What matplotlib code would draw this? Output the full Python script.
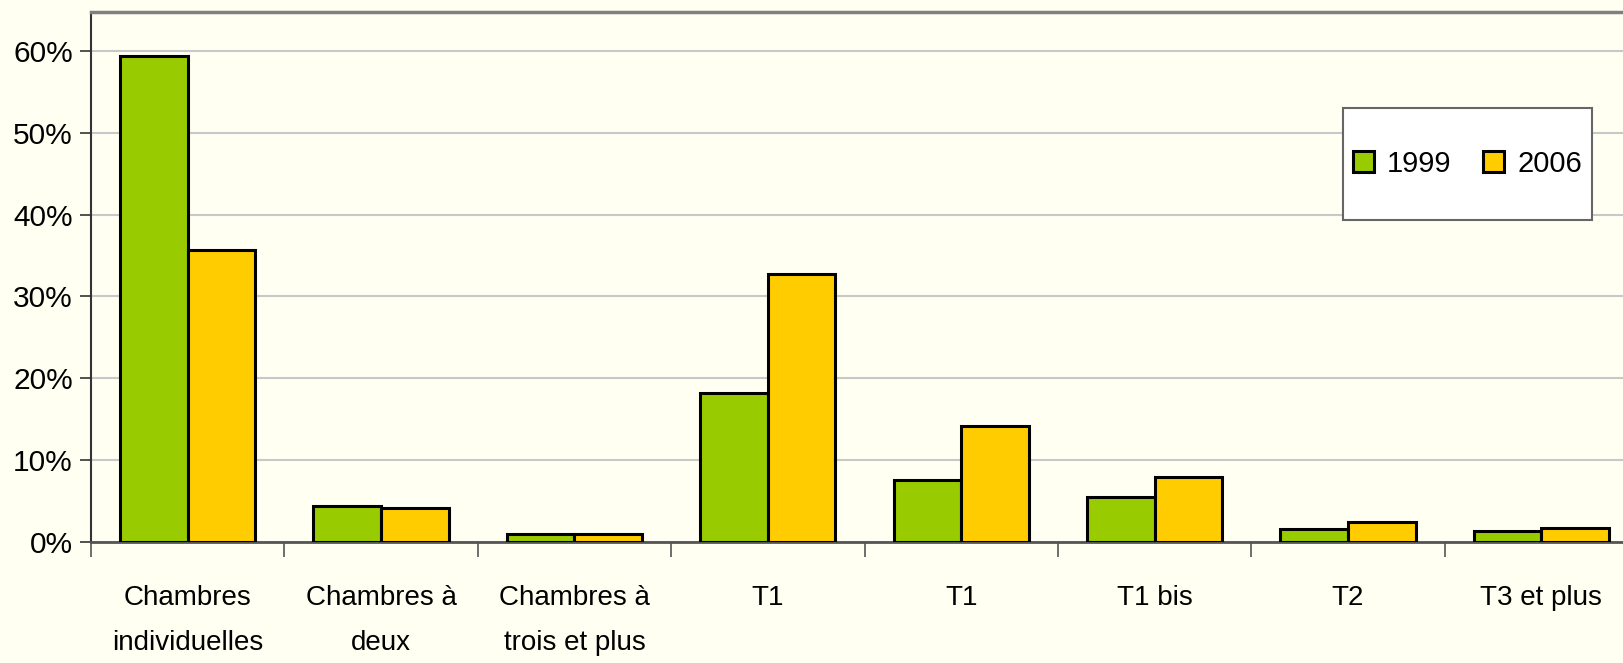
import matplotlib
matplotlib.use("Agg")
import matplotlib.pyplot as plt
import numpy as np
from matplotlib.patches import Rectangle

plt.rcParams["font.family"] = ["Liberation Sans", "DejaVu Sans"]

categories = ["Chambres\nindividuelles", "Chambres à\ndeux", "Chambres à\ntrois et plus",
              "T1", "T1", "T1 bis", "T2", "T3 et plus"]
series_names = ["1999", "2006"]
values_1999 = [59.4, 4.4, 0.9, 18.2, 7.55, 5.5, 1.6, 1.35]
values_2006 = [35.7, 4.1, 0.9, 32.8, 14.1, 7.9, 2.4, 1.64]
yticks = [0, 10, 20, 30, 40, 50, 60]
colors = ["#99CC00", "#FFCC00"]
bg = "#FFFFF2"

fig = plt.figure(figsize=(16.23, 6.63), dpi=100, facecolor=bg)
ax = fig.add_axes([91/1623, (663-541.7)/663, (1638-91)/1623, (541.7-12)/663])
ax.set_facecolor(bg)

x = np.arange(len(categories))
w = 0.35
handles = []
for i, (vals, c, name) in enumerate(zip([values_1999, values_2006], colors, series_names)):
    b = ax.bar(x - w/2 + i*w, vals, width=w, color=c, edgecolor="black", linewidth=2.2,
               label=name, zorder=3)
    handles.append(b)

ax.set_xlim(-0.5, len(categories) - 0.5)
ax.set_ylim(0, 64.8)

ax.set_yticks(yticks)
ax.set_yticklabels([f"{v}%" for v in yticks])
ax.tick_params(axis="y", length=8, width=1.2, color="#333333", pad=5, labelsize=21.5)
ax.yaxis.grid(True, color="#C8C8C8", linewidth=1.5, zorder=0)
ax.set_axisbelow(True)

# category boundary ticks (major) and labels at centers (minor)
ax.set_xticks(np.arange(len(categories) + 1) - 0.5)
ax.set_xticklabels([])
ax.tick_params(axis="x", which="major", length=11, width=1.2, color="#555555")
ax.set_xticks(x, minor=True)
ax.set_xticklabels(categories, minor=True)
ax.tick_params(axis="x", which="minor", length=0, pad=31.5, labelsize=20)
for lbl in ax.get_xticklabels(minor=True):
    lbl.set_linespacing(1.93)

ax.spines["right"].set_visible(False)
ax.spines["top"].set_color("#808080")
ax.spines["top"].set_linewidth(2.5)
ax.spines["left"].set_color("#333333")
ax.spines["left"].set_linewidth(1.5)
ax.spines["bottom"].set_color("#555555")
ax.spines["bottom"].set_linewidth(2)

# legend box
fig.patches.append(Rectangle((1343/1623, 1 - 220/663), (1592-1343)/1623, (220-108)/663,
                             transform=fig.transFigure, facecolor="white",
                             edgecolor="#666666", linewidth=1.5, zorder=5))
leg = fig.legend(handles=handles, labels=series_names, loc="center",
                 bbox_to_anchor=((1343+1592)/2/1623, 1 - 164/663), ncol=2, frameon=False,
                 prop={"size": 21},
                 handlelength=0.72, handleheight=0.72, handletextpad=0.45, columnspacing=1.1,
                 borderpad=0)
leg.set_zorder(6)
for h in leg.legend_handles:
    h.set_linewidth(2.2)

fig.savefig("out.png", dpi=100, facecolor=bg)
